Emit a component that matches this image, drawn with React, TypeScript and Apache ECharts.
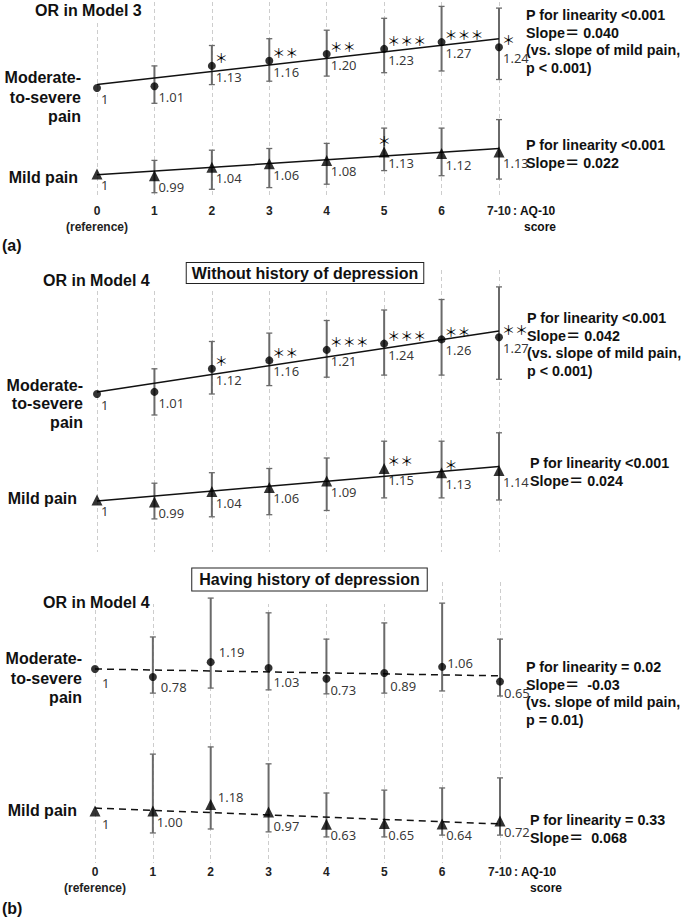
import React, { useEffect, useRef } from 'react';
import * as echarts from 'echarts';

// ---------- data ----------
const categories = ['0', '1', '2', '3', '4', '5', '6', '7-10'];

// (a) OR in Model 3
const aModOR = [1, 1.01, 1.13, 1.16, 1.2, 1.23, 1.27, 1.24];
const aModLow = [null, 0.91, 1.02, 1.04, 1.07, 1.09, 1.1, 1.05];
const aModHigh = [null, 1.13, 1.25, 1.29, 1.34, 1.41, 1.48, 1.47];
const aModSig = ['', '', '*', '**', '**', '***', '***', '*'];
const aModTrend = [1.02, 1.29];
const aMildOR = [1, 0.99, 1.04, 1.06, 1.08, 1.13, 1.12, 1.13];
const aMildLow = [null, 0.89, 0.91, 0.92, 0.94, 1.02, 0.99, 0.97];
const aMildHigh = [null, 1.08, 1.14, 1.15, 1.18, 1.27, 1.27, 1.32];
const aMildSig = ['', '', '', '', '', '*', '', ''];
const aMildTrend = [0.995, 1.15];

// (b) OR in Model 4, without history of depression
const bModOR = [1, 1.01, 1.12, 1.16, 1.21, 1.24, 1.26, 1.27];
const bModLow = [null, 0.9, 1.0, 1.04, 1.08, 1.09, 1.09, 1.07];
const bModHigh = [null, 1.12, 1.25, 1.29, 1.35, 1.4, 1.45, 1.51];
const bModSig = ['', '', '*', '**', '***', '***', '**', '**'];
const bModTrend = [1.01, 1.3];
const bMildOR = [1, 0.99, 1.04, 1.06, 1.09, 1.15, 1.13, 1.14];
const bMildLow = [null, 0.91, 0.92, 0.93, 0.95, 1.01, 1.01, 1.0];
const bMildHigh = [null, 1.08, 1.13, 1.15, 1.2, 1.28, 1.28, 1.32];
const bMildSig = ['', '', '', '', '', '**', '*', ''];
const bMildTrend = [0.995, 1.16];

// (b) OR in Model 4, having history of depression
const cModOR = [1, 0.78, 1.19, 1.03, 0.73, 0.89, 1.06, 0.65];
const cModLow = [null, 0.33, 0.47, 0.42, 0.31, 0.33, 0.39, 0.25];
const cModHigh = [null, 1.89, 2.97, 2.56, 1.83, 2.28, 2.83, 1.83];
const cModSig = ['', '', '', '', '', '', '', ''];
const cModTrend = [1.0, 0.81];
const cMildOR = [1, 1.0, 1.18, 0.97, 0.63, 0.65, 0.64, 0.72];
const cMildLow = [null, 0.39, 0.5, 0.42, 0.28, 0.28, 0.33, 0.33];
const cMildHigh = [null, 2.58, 2.78, 2.31, 1.5, 1.58, 1.64, 1.92];
const cMildSig = ['', '', '', '', '', '', '', ''];
const cMildTrend = [1.08, 0.64];

// texts
const rowModerate = 'Moderate-\nto-severe\npain';
const rowMild = 'Mild pain';
const aModNote = ['P for linearity <0.001', 'Slope＝ 0.040', '(vs. slope of mild pain,', 'p < 0.001)'];
const aMildNote = ['P for linearity <0.001', 'Slope＝ 0.022'];
const bModNote = ['P for linearity <0.001', 'Slope＝ 0.042', '(vs. slope of mild pain,', 'p < 0.001)'];
const bMildNote = ['P for linearity <0.001', 'Slope＝ 0.024'];
const cModNote = ['P for linearity = 0.02', 'Slope＝  -0.03', '(vs. slope of mild pain,', 'p = 0.01)'];
const cMildNote = ['P for linearity = 0.33', 'Slope＝  0.068'];

// ---------- styles ----------
const FONT = '"Liberation Sans", Arial, "Noto Sans CJK JP", sans-serif';
const LABEL_FONT = '"Noto Sans", "Liberation Sans", sans-serif';
const STAR_FONT = '"Noto Sans CJK JP", "Noto Sans", sans-serif';
const BAR_COLOR = '#6a6a6a';

type Row = {
  or: number[]; low: (number | null)[]; high: (number | null)[]; sig: string[]; trend: number[];
  symbol: string; baseY: number; k: number;
  labelOffsets?: Record<number, [number, number]>;
  starCentered?: boolean;
};
type Panel = { top: number; bottom: number; left: number; right: number; dashed: boolean; showLabels: boolean; labelMargin: number; rows: Row[] };

const panels: Panel[] = [
  {
    top: 2, bottom: 197, left: 97, right: 186, dashed: false, showLabels: true, labelMargin: 6,
    rows: [
      { or: aModOR, low: aModLow, high: aModHigh, sig: aModSig, trend: aModTrend, symbol: 'circle', baseY: 88, k: 170 },
      { or: aMildOR, low: aMildLow, high: aMildHigh, sig: aMildSig, trend: aMildTrend, symbol: 'triangle', baseY: 174, k: 170, starCentered: true },
    ],
  },
  {
    top: 270, bottom: 552, left: 97, right: 186, dashed: false, showLabels: false, labelMargin: 6,
    rows: [
      { or: bModOR, low: bModLow, high: bModHigh, sig: bModSig, trend: bModTrend, symbol: 'circle', baseY: 394, k: 210 },
      { or: bMildOR, low: bMildLow, high: bMildHigh, sig: bMildSig, trend: bMildTrend, symbol: 'triangle', baseY: 500, k: 210 },
    ],
  },
  {
    top: 582, bottom: 863, left: 95, right: 185, dashed: true, showLabels: true, labelMargin: 1,
    rows: [
      { or: cModOR, low: cModLow, high: cModHigh, sig: cModSig, trend: cModTrend, symbol: 'circle', baseY: 669, k: 36,
        labelOffsets: { 0: [7, 14], 1: [8, 10], 2: [8, -10], 3: [5, 14], 5: [6, 13], 6: [5, -4] } },
      { or: cMildOR, low: cMildLow, high: cMildHigh, sig: cMildSig, trend: cMildTrend, symbol: 'triangle', baseY: 811, k: 36,
        labelOffsets: { 0: [7, 13], 2: [7, -8], 3: [5, 14] } },
    ],
  },
];

function buildOption() {
  const grid: any[] = [];
  const xAxis: any[] = [];
  const yAxis: any[] = [];
  const series: any[] = [];

  panels.forEach((p, pi) => {
    grid.push({ left: p.left, right: p.right, top: p.top, height: p.bottom - p.top });
    xAxis.push({
      type: 'category', gridIndex: pi, data: categories, boundaryGap: false,
      axisLine: { show: false }, axisTick: { show: false },
      splitLine: { show: true, interval: 0, lineStyle: { color: '#cdcdcd', width: 1, type: [4, 3] } },
      axisLabel: p.showLabels
        ? {
            show: true, interval: 0, margin: p.labelMargin,
            formatter: (v: string, i: number) => (i === 0 ? `{n|${v}}\n{r|(reference)}` : `{n|${v}}`),
            rich: {
              n: { fontFamily: FONT, fontWeight: 'bold', fontSize: 12, lineHeight: 16, color: '#222' },
              r: { fontFamily: FONT, fontWeight: 'bold', fontSize: 12, lineHeight: 16, color: '#222' },
            },
          }
        : { show: false },
    });

    p.rows.forEach((r) => {
      const yi = yAxis.length;
      yAxis.push({
        type: 'value', gridIndex: pi, show: false,
        min: 1 - (p.bottom - r.baseY) / r.k,
        max: 1 + (r.baseY - p.top) / r.k,
        splitLine: { show: false },
      });
      const size = r.symbol === 'circle' ? 8 : 11;

      // error bars
      series.push({
        type: 'custom', xAxisIndex: pi, yAxisIndex: yi, z: 2, silent: true,
        encode: { x: 0, y: [1, 2] },
        data: r.low.map((lo, i) => (lo == null ? null : [i, lo, r.high[i]])).filter((d) => d !== null),
        renderItem: (_params: any, api: any) => {
          const i = api.value(0);
          const lo = api.coord([i, api.value(1)]);
          const hi = api.coord([i, api.value(2)]);
          const x = lo[0];
          return {
            type: 'group',
            children: [
              { type: 'line', shape: { x1: x, y1: lo[1], x2: x, y2: hi[1] }, style: { stroke: BAR_COLOR, lineWidth: 2 } },
              { type: 'line', shape: { x1: x - 3, y1: hi[1], x2: x + 3, y2: hi[1] }, style: { stroke: BAR_COLOR, lineWidth: 1.3 } },
              { type: 'line', shape: { x1: x - 3, y1: lo[1], x2: x + 3, y2: lo[1] }, style: { stroke: BAR_COLOR, lineWidth: 1.3 } },
            ],
          };
        },
      });

      // trend line
      series.push({
        type: 'line', xAxisIndex: pi, yAxisIndex: yi, z: 3, silent: true, symbol: 'none',
        data: [[0, r.trend[0]], [categories.length - 1, r.trend[1]]],
        lineStyle: { color: '#111', width: 1.5, type: p.dashed ? [7, 5] : 'solid' },
      });

      // points with value labels
      series.push({
        type: 'scatter', xAxisIndex: pi, yAxisIndex: yi, z: 4, silent: true,
        symbol: r.symbol, symbolSize: size,
        itemStyle: { color: '#000' },
        data: r.or.map((v, i) => {
          const off = (r.labelOffsets && r.labelOffsets[i]) || [4, 11];
          return { value: [i, v], label: { position: [size / 2 + off[0], size / 2 + off[1]] } };
        }),
        label: {
          show: true, align: 'left', verticalAlign: 'middle', color: '#000',
          fontFamily: LABEL_FONT, fontSize: 13,
          formatter: (prm: any) => (prm.dataIndex === 0 ? '1' : Number(prm.value[1]).toFixed(2)),
        },
      });

      // significance stars
      series.push({
        type: 'custom', xAxisIndex: pi, yAxisIndex: yi, z: 5, silent: true,
        encode: { x: 0, y: 1 },
        data: r.or.map((v, i) => [i, v]),
        renderItem: (params: any, api: any) => {
          const s = r.sig[params.dataIndex];
          if (!s) return null;
          const c = api.coord([api.value(0), api.value(1)]);
          const txt = s.replace(/\*/g, '＊');
          const centered = !!r.starCentered;
          return {
            type: 'text',
            x: centered ? c[0] : c[0] + 3,
            y: centered ? c[1] - 11 : c[1] - 8,
            style: {
              text: txt, fill: '#000', font: `13px ${STAR_FONT}`,
              align: centered ? 'center' : 'left', verticalAlign: 'middle',
              textAlign: centered ? 'center' : 'left', textVerticalAlign: 'middle',
            },
          };
        },
      });
    });
  });

  const text = (x: number, y: number, t: string, o: any = {}) => ({
    type: 'text', x, y, z: 10, silent: true,
    style: {
      text: t, fill: '#111', font: `bold ${o.size || 16}px ${FONT}`,
      textAlign: o.align || 'left', textVerticalAlign: o.valign || 'middle',
      align: o.align || 'left', verticalAlign: o.valign || 'middle',
      lineHeight: o.lh, ...(o.extra || {}),
    },
  });
  const mask = (x: number, y: number, w: number, h: number) => ({
    type: 'rect', z: 1, silent: true, shape: { x, y, width: w, height: h }, style: { fill: '#fff' },
  });
  const note = (x: number, firstY: number, lines: string[]) =>
    text(x, firstY - 8.85, lines.join('\n'), { size: 14.3, valign: 'top', lh: 17.7 });

  const graphic: any[] = [
    // masks over grid line tops
    mask(85, 0, 26, 22),
    mask(85, 266, 310, 22),
    mask(85, 578, 310, 26),
    // panel (a)
    text(35, 10, 'OR in Model 3'),
    text(81, 68, rowModerate, { align: 'right', valign: 'top', lh: 19.5 }),
    text(78, 177, rowMild, { align: 'right' }),
    note(526, 15, aModNote),
    note(526, 145, aMildNote),
    text(513, 211, ': AQ-10', { size: 12 }),
    text(540, 227, 'score', { size: 12, align: 'center' }),
    text(2, 245, '(a)'),
    // panel (b) upper
    text(43, 280, 'OR in Model 4'),
    text(305, 273, 'Without history of depression', {
      align: 'center',
      extra: { backgroundColor: '#fff', borderColor: '#222', borderWidth: 1, padding: [2, 5, 2, 5] },
    }),
    text(83, 376, rowModerate, { align: 'right', valign: 'top', lh: 18.5 }),
    text(77, 498, rowMild, { align: 'right' }),
    note(527, 318, bModNote),
    note(530, 463, bMildNote),
    // panel (b) lower
    text(43, 602, 'OR in Model 4'),
    text(309.5, 579.5, 'Having history of depression', {
      align: 'center',
      extra: { backgroundColor: '#fff', borderColor: '#222', borderWidth: 1, padding: [3, 7, 3, 7] },
    }),
    text(82, 649, rowModerate, { align: 'right', valign: 'top', lh: 19.5 }),
    text(77, 810, rowMild, { align: 'right' }),
    note(526, 667, cModNote),
    note(530, 820, cMildNote),
    text(514, 872, ': AQ-10', { size: 12 }),
    text(546, 888, 'score', { size: 12, align: 'center' }),
    text(2, 908, '(b)'),
  ];

  return { animation: false, backgroundColor: '#fff', grid, xAxis, yAxis, series, graphic };
}

export default function App() {
  const ref = useRef<HTMLDivElement>(null);
  useEffect(() => {
    document.body.style.margin = '0';
    if (!ref.current) return;
    const chart = echarts.init(ref.current, undefined, { renderer: 'svg' });
    chart.setOption(buildOption() as any);
    return () => chart.dispose();
  }, []);
  return <div ref={ref} style={{ position: 'absolute', left: 0, top: 0, width: 685, height: 919 }} />;
}
